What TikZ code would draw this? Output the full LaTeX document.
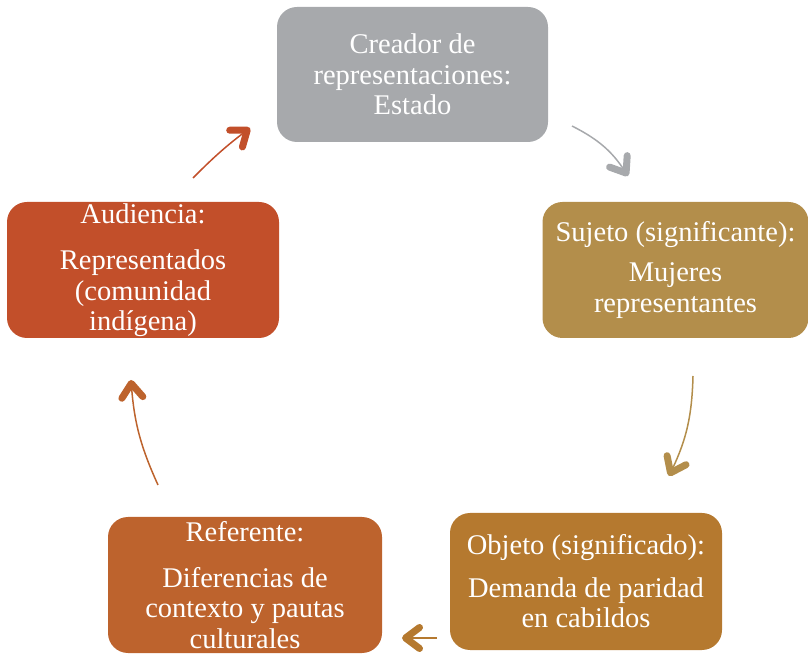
\documentclass[tikz,border=0pt]{standalone}
\usepackage{fontspec}
\setmainfont{Liberation Serif}
\usetikzlibrary{arrows.meta}
\definecolor{cgray}{HTML}{A7A9AC}
\definecolor{cgold}{HTML}{B38E4B}
\definecolor{cobj}{HTML}{B5792F}
\definecolor{cref}{HTML}{BD632D}
\definecolor{caud}{HTML}{C24F2A}
\tikzset{
  box/.style={rounded corners=20pt, minimum width=#1, minimum height=136pt, inner sep=0pt,
    text=white, align=center, font=\fontsize{28.5}{30.5}\selectfont},
  conn/.style={line width=1.5pt, -{Straight Barb[length=14pt,width=21pt,line width=7pt 0,round]}}
}
\begin{document}
\begin{tikzpicture}[x=1pt,y=1pt]
\useasboundingbox (0,0) rectangle (808,653);
\node[box=271pt, fill=cgray, minimum height=135pt] (est) at (412.5,578.5)
  {Creador de\\representaciones:\\Estado};
\node[box=266pt, fill=cgold] (suj) at (675.5,383)
  {Sujeto (significante):\\[10pt]Mujeres\\representantes};
\node[box=272pt, fill=cobj, minimum height=137pt] (obj) at (586,71.5)
  {Objeto (significado):\\[12pt]Demanda de paridad\\en cabildos};
\node[box=274pt, fill=cref] (ref) at (245,68)
  {Referente:\\[15pt]Diferencias de\\contexto y pautas\\culturales};
\node[box=272pt, fill=caud] (aud) at (143,383)
  {Audiencia:\\[16pt]Representados\\(comunidad\\indígena)};
\coordinate (a1s) at (572,527); \coordinate (a1e) at (628,477);
\coordinate (a2s) at (693,277); \coordinate (a2e) at (669,177);
\coordinate (a3s) at (437,15);  \coordinate (a3e) at (402,15);
\coordinate (a4s) at (158,168); \coordinate (a4e) at (131,273);
\coordinate (a5s) at (193,475); \coordinate (a5e) at (250,525);
\draw[conn, cgray] (a1s) to[bend left=15] (a1e);
\draw[conn, cgold] (a2s) to[bend left=12] (a2e);
\draw[conn, cobj] (a3s) -- (a3e);
\draw[conn, cref] (a4s) to[bend left=10] (a4e);
\draw[conn, caud] (a5s) to[bend left=4] (a5e);
\end{tikzpicture}
\end{document}
